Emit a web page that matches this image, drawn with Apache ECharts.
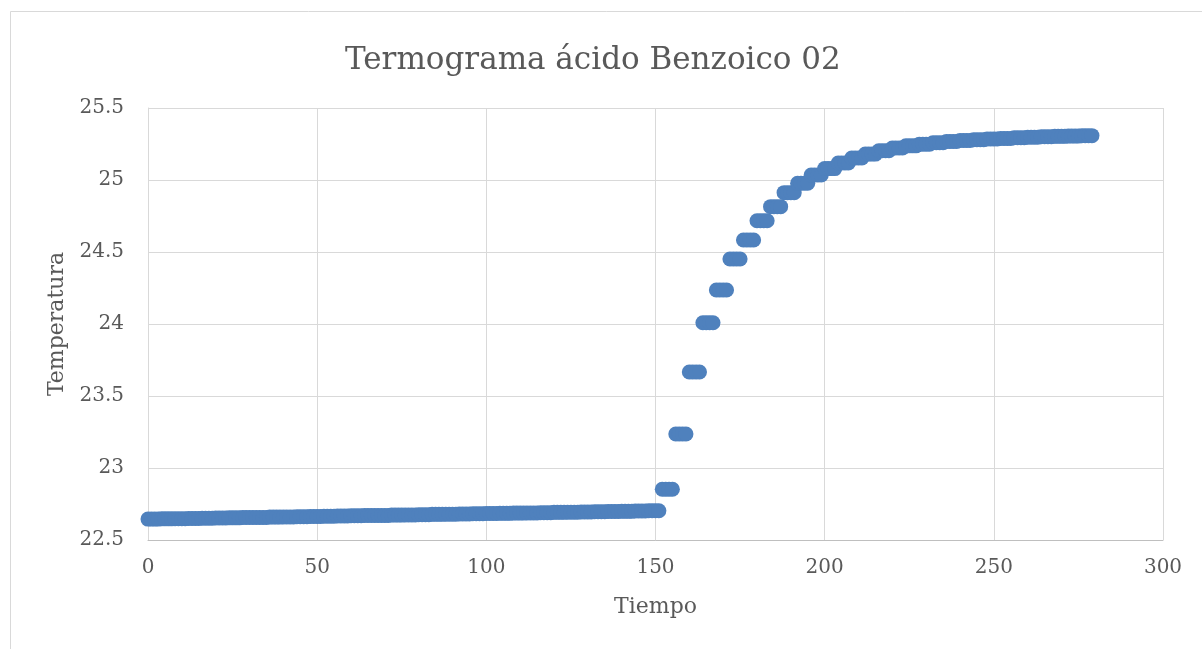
<!DOCTYPE html>
<html>
<head>
<meta charset="utf-8">
<script src="https://cdn.jsdelivr.net/npm/echarts@6/dist/echarts.min.js"></script>
<style>html,body{margin:0;padding:0;background:#fff;}#c{width:1202px;height:649px;}</style>
</head>
<body>
<div id="c"></div>
<script>
// Title and axis names
const chartTitle = 'Termograma ácido Benzoico 02';
const xName = 'Tiempo';
const yName = 'Temperatura';

// X ticks (s) and Y ticks (temperature)
const xTicks = [0, 50, 100, 150, 200, 250, 300];
const yTicks = [22.5, 23, 23.5, 24, 24.5, 25, 25.5];

// Temperature samples, one per second (t = 0 ... 279 s); the thermometer reading updates every 4 s
const temperatura = [
  22.645,22.645,22.645,22.645, 22.647,22.647,22.647,22.647,
  22.648,22.648,22.648,22.648, 22.650,22.650,22.650,22.650,
  22.651,22.651,22.651,22.651, 22.653,22.653,22.653,22.653,
  22.654,22.654,22.654,22.654, 22.656,22.656,22.656,22.656,
  22.657,22.657,22.657,22.657, 22.659,22.659,22.659,22.659,
  22.660,22.660,22.660,22.660, 22.662,22.662,22.662,22.662,
  22.664,22.664,22.664,22.664, 22.665,22.665,22.665,22.665,
  22.667,22.667,22.667,22.667, 22.668,22.668,22.668,22.668,
  22.670,22.670,22.670,22.670, 22.671,22.671,22.671,22.671,
  22.673,22.673,22.673,22.673, 22.674,22.674,22.674,22.674,
  22.676,22.676,22.676,22.676, 22.678,22.678,22.678,22.678,
  22.679,22.679,22.679,22.679, 22.681,22.681,22.681,22.681,
  22.682,22.682,22.682,22.682, 22.684,22.684,22.684,22.684,
  22.685,22.685,22.685,22.685, 22.687,22.687,22.687,22.687,
  22.688,22.688,22.688,22.688, 22.690,22.690,22.690,22.690,
  22.692,22.692,22.692,22.692, 22.693,22.693,22.693,22.693,
  22.695,22.695,22.695,22.695, 22.696,22.696,22.696,22.696,
  22.698,22.698,22.698,22.698, 22.699,22.699,22.699,22.699,
  22.701,22.701,22.701,22.701, 22.703,22.703,22.703,22.703,
  22.852,22.852,22.852,22.852, 23.236,23.236,23.236,23.236,
  23.667,23.667,23.667,23.667, 24.009,24.009,24.009,24.009,
  24.236,24.236,24.236,24.236, 24.451,24.451,24.451,24.451,
  24.583,24.583,24.583,24.583, 24.717,24.717,24.717,24.717,
  24.815,24.815,24.815,24.815, 24.912,24.912,24.912,24.912,
  24.977,24.977,24.977,24.977, 25.035,25.035,25.035,25.035,
  25.079,25.079,25.079,25.079, 25.118,25.118,25.118,25.118,
  25.153,25.153,25.153,25.153, 25.180,25.180,25.180,25.180,
  25.203,25.203,25.203,25.203, 25.222,25.222,25.222,25.222,
  25.237,25.237,25.237,25.237, 25.249,25.249,25.249,25.249,
  25.259,25.259,25.259,25.259, 25.267,25.267,25.267,25.267,
  25.274,25.274,25.274,25.274, 25.280,25.280,25.280,25.280,
  25.285,25.285,25.285,25.285, 25.289,25.289,25.289,25.289,
  25.293,25.293,25.293,25.293, 25.297,25.297,25.297,25.297,
  25.300,25.300,25.300,25.300, 25.303,25.303,25.303,25.303,
  25.305,25.305,25.305,25.305, 25.308,25.308,25.308,25.308
];

const points = temperatura.map((v, i) => [i, v]);

const textColor = '#595959';
const font = 'DejaVu Serif';

const chart = echarts.init(document.getElementById('c'), null, {renderer: 'canvas'});
chart.setOption({
  animation: false,
  backgroundColor: '#ffffff',
  graphic: [{
    type: 'rect', left: 8, top: 9,
    shape: {width: 1400, height: 800},
    style: {fill: 'none', stroke: '#d9d9d9', lineWidth: 1}
  }],
  title: {
    text: chartTitle, left: 340, top: 40,
    textStyle: {fontFamily: font, fontSize: 31, fontWeight: 'normal', color: textColor}
  },
  grid: {left: 148, right: 39, top: 108, bottom: 109},
  xAxis: {
    type: 'value', min: xTicks[0], max: xTicks[xTicks.length - 1], interval: 50,
    name: xName, nameLocation: 'middle', nameGap: 56,
    nameTextStyle: {fontFamily: font, fontSize: 22, color: textColor},
    axisLine: {show: true, lineStyle: {color: '#bfbfbf', width: 1}},
    axisTick: {show: false},
    axisLabel: {fontFamily: font, fontSize: 20, color: textColor, margin: 18},
    splitLine: {show: true, lineStyle: {color: '#d9d9d9', width: 1}}
  },
  yAxis: {
    type: 'value', min: yTicks[0], max: yTicks[yTicks.length - 1], interval: 0.5,
    name: yName, nameLocation: 'middle', nameGap: 76, nameRotate: 90,
    nameTextStyle: {fontFamily: font, fontSize: 22, color: textColor},
    axisLine: {show: true, lineStyle: {color: '#d9d9d9', width: 1}},
    axisTick: {show: false},
    axisLabel: {fontFamily: font, fontSize: 20, color: textColor, margin: 24},
    splitLine: {show: true, lineStyle: {color: '#d9d9d9', width: 1}}
  },
  series: [{
    type: 'scatter',
    data: points,
    symbol: 'circle',
    symbolSize: 15,
    itemStyle: {color: '#4f81bd', opacity: 1}
  }]
});
</script>
</body>
</html>
